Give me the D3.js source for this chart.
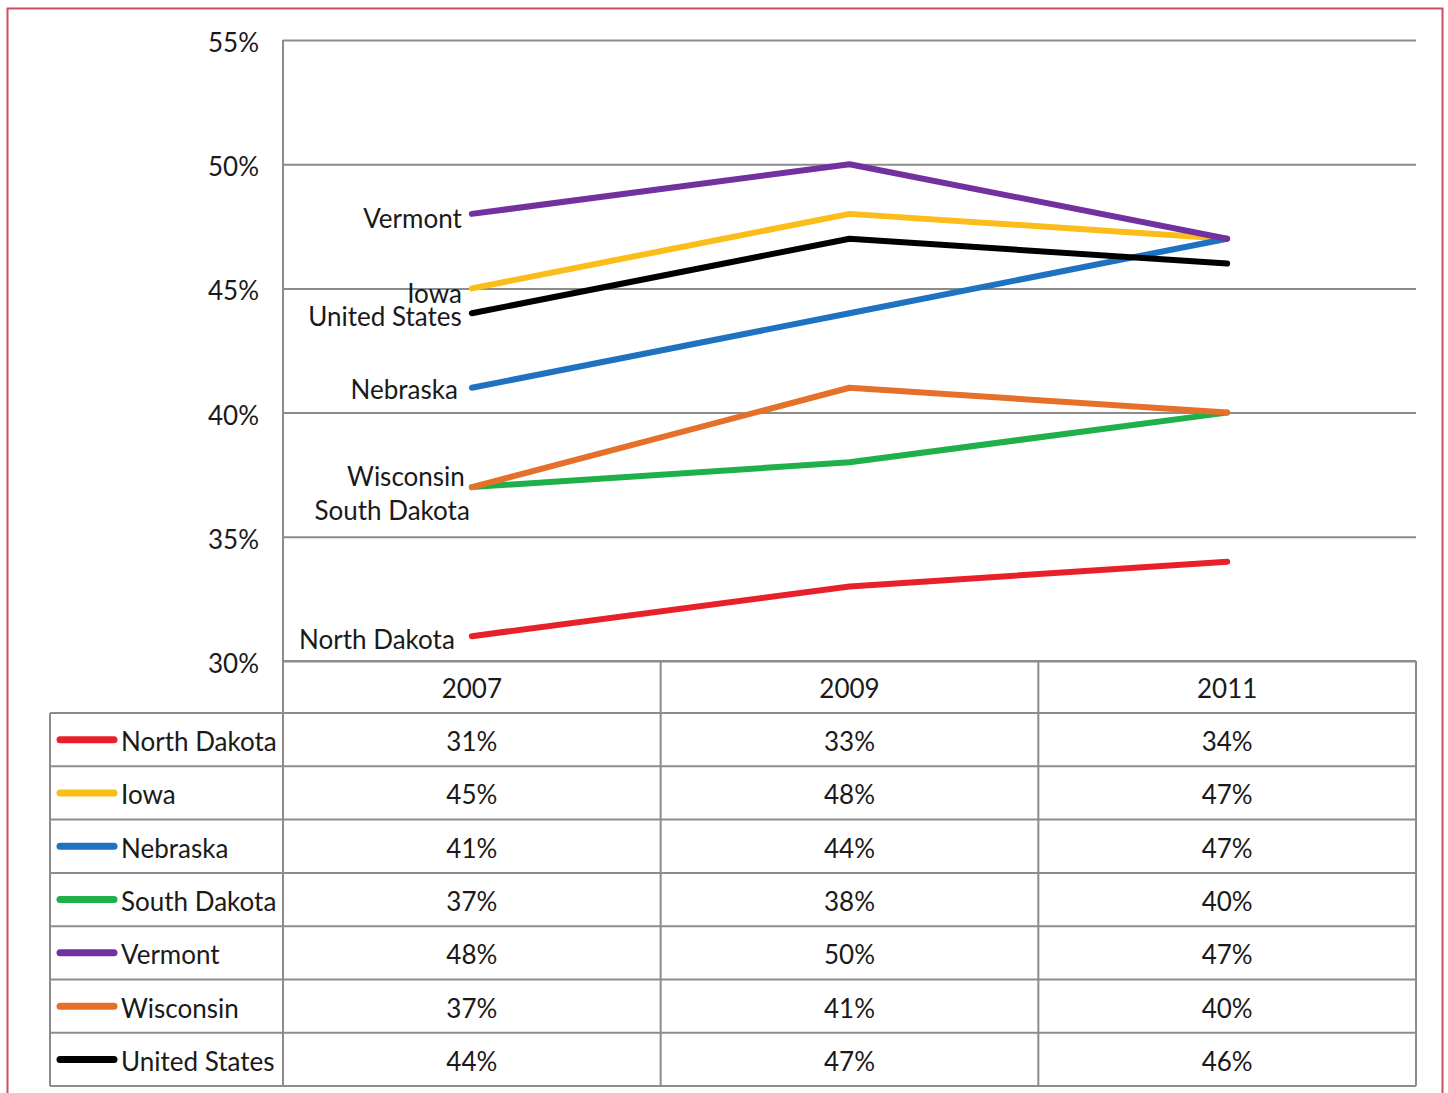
<!DOCTYPE html>
<html>
<head>
<meta charset="utf-8">
<script src="https://cdn.jsdelivr.net/npm/d3@7"></script>
<style>
  html, body { margin: 0; padding: 0; background: #fff; }
  svg text { font-family: Lato, "Open Sans", sans-serif; fill: #1a1a1a; }
</style>
</head>
<body>
<svg id="chart" width="1448" height="1093"></svg>
<script>
// ---- data ----
var years = ["2007", "2009", "2011"];
var yTicks = [30, 35, 40, 45, 50, 55];

var northDakota = [31, 33, 34];
var iowa = [45, 48, 47];
var nebraska = [41, 44, 47];
var southDakota = [37, 38, 40];
var vermont = [48, 50, 47];
var wisconsin = [37, 41, 40];
var unitedStates = [44, 47, 46];

var seriesNames = ["North Dakota", "Iowa", "Nebraska", "South Dakota", "Vermont", "Wisconsin", "United States"];
var seriesValues = [northDakota, iowa, nebraska, southDakota, vermont, wisconsin, unitedStates];
var seriesColors = ["#e8202a", "#fbbd19", "#1f72c0", "#1fb04a", "#7132a0", "#e4702a", "#000000"];

// label nudges (px) so the left-hand labels sit like the original
var labelDy = { "Vermont": 3, "Iowa": 3, "United States": 1, "Nebraska": 0,
  "South Dakota": 21, "Wisconsin": -13, "North Dakota": 1 };
var labelDx = { "Vermont": 0, "Iowa": 0, "United States": 0, "Nebraska": -4,
  "South Dakota": 8, "Wisconsin": 3, "North Dakota": -7 };

//--layout
var plotLeft = 283, plotRight = 1416, plotTop = 40, plotBottom = 661;
var tableLeft = 50, rowH = 53.3, headerH = 52;
var textDy = "0.44em";

var svg = d3.select("#chart");

var x = d3.scaleBand().domain(years).range([plotLeft, plotRight]);
var y = d3.scaleLinear().domain([30, 55]).range([plotBottom, plotTop]);
var gridColor = "#8c8c8c";

// outer red frame
svg.append("rect")
  .attr("x", 7.5).attr("y", 8.5)
  .attr("width", 1435).attr("height", 1100)
  .attr("fill", "none")
  .attr("stroke", "#c9505e")
  .attr("stroke-width", 2);

// gridlines
var yAxis = d3.axisLeft(y).tickValues(yTicks).tickSize(-(plotRight - plotLeft)).tickFormat(function (d) { return d + "%"; });
var gy = svg.append("g").attr("transform", "translate(" + plotLeft + ",0)").call(yAxis);
gy.select(".domain").remove();
gy.selectAll(".tick line").attr("stroke", gridColor).attr("stroke-width", 2);
gy.selectAll(".tick text")
  .attr("x", -24)
  .attr("dy", textDy)
  .style("font-size", "26px")
  .style("font-family", "Lato, 'Open Sans', sans-serif")
  .style("fill", "#1a1a1a");

// data table
var rows = seriesNames.length;
var tableTop = plotBottom;
var rowTop = function (i) { return tableTop + headerH + i * rowH; };
var tableBottom = rowTop(rows);

var tbl = svg.append("g").attr("class", "table");
// vertical lines
tbl.append("line").attr("x1", plotLeft).attr("x2", plotLeft).attr("y1", plotTop).attr("y2", tableBottom);
years.forEach(function (yr) {
  var xr = x(yr) + x.bandwidth();
  tbl.append("line").attr("x1", xr).attr("x2", xr).attr("y1", tableTop).attr("y2", tableBottom);
});
tbl.append("line").attr("x1", tableLeft).attr("x2", tableLeft).attr("y1", rowTop(0)).attr("y2", tableBottom);
// horizontal lines
tbl.append("line").attr("x1", plotLeft).attr("x2", plotRight).attr("y1", tableTop).attr("y2", tableTop);
for (var i = 0; i <= rows; i++) {
  tbl.append("line").attr("x1", tableLeft).attr("x2", plotRight).attr("y1", rowTop(i)).attr("y2", rowTop(i));
}
tbl.selectAll("line").attr("stroke", gridColor).attr("stroke-width", 2);

// header years
svg.selectAll(".yearLabel").data(years).enter().append("text")
  .attr("class", "yearLabel")
  .attr("x", function (d) { return x(d) + x.bandwidth() / 2; })
  .attr("y", tableTop + headerH / 2)
  .attr("dy", textDy)
  .attr("text-anchor", "middle")
  .style("font-size", "26px")
  .text(function (d) { return d; });

// table rows
seriesNames.forEach(function (name, i) {
  var cy = rowTop(i) + rowH / 2;
  svg.append("line")
    .attr("x1", 60).attr("x2", 114)
    .attr("y1", cy).attr("y2", cy)
    .attr("stroke", seriesColors[i])
    .attr("stroke-width", 7)
    .attr("stroke-linecap", "round");
  svg.append("text")
    .attr("x", 121).attr("y", cy)
    .attr("dy", textDy)
    .style("font-size", "26px")
    .text(name);
  seriesValues[i].forEach(function (v, j) {
    svg.append("text")
      .attr("x", x(years[j]) + x.bandwidth() / 2)
      .attr("y", cy)
      .attr("dy", textDy)
      .attr("text-anchor", "middle")
      .style("font-size", "26px")
      .text(v + "%");
  });
});

// lines
var line = d3.line()
  .x(function (d, j) { return x(years[j]) + x.bandwidth() / 2; })
  .y(function (d) { return y(d); });

seriesValues.forEach(function (vals, i) {
  svg.append("path")
    .attr("d", line(vals))
    .attr("fill", "none")
    .attr("stroke", seriesColors[i])
    .attr("stroke-width", 6)
    .attr("stroke-linecap", "round")
    .attr("stroke-linejoin", "round");
});

// series labels at the first point
seriesNames.forEach(function (name, i) {
  svg.append("text")
    .attr("x", x(years[0]) + x.bandwidth() / 2 - 10 + labelDx[name])
    .attr("y", y(seriesValues[i][0]) + labelDy[name])
    .attr("dy", textDy)
    .attr("text-anchor", "end")
    .style("font-size", "26px")
    .text(name);
});
</script>
</body>
</html>
